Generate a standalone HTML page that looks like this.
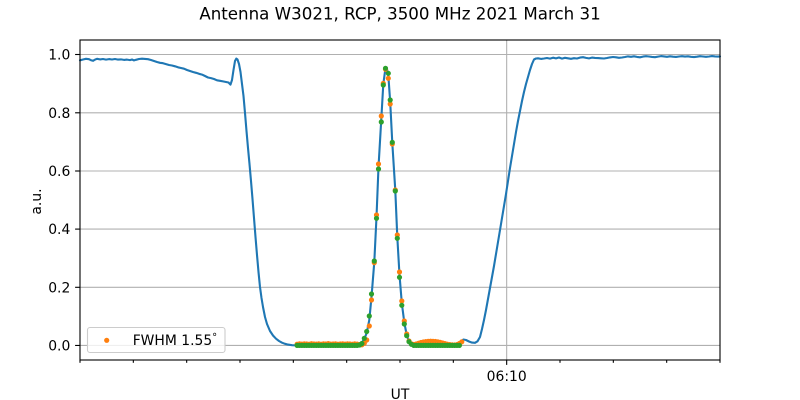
<!DOCTYPE html>
<html><head><meta charset="utf-8"><style>
html,body{margin:0;padding:0;background:#fff;}
svg{display:block;}
text{font-family:"DejaVu Sans","Liberation Sans",sans-serif;fill:#000;}
</style></head><body>
<svg width="800" height="400" viewBox="0 0 800 400" xmlns="http://www.w3.org/2000/svg">
<rect x="0" y="0" width="800" height="400" fill="#fff"/>
<text x="400" y="19.3" font-size="16.67" text-anchor="middle">Antenna W3021, RCP, 3500 MHz 2021 March 31</text>
<!-- grid -->
<g stroke="#b0b0b0" stroke-width="1.1">
<line x1="80" y1="345.45" x2="720" y2="345.45"/>
<line x1="80" y1="287.3" x2="720" y2="287.3"/>
<line x1="80" y1="229.1" x2="720" y2="229.1"/>
<line x1="80" y1="171.0" x2="720" y2="171.0"/>
<line x1="80" y1="112.8" x2="720" y2="112.8"/>
<line x1="80" y1="54.5" x2="720" y2="54.5"/>
<line x1="506.67" y1="40" x2="506.67" y2="360"/>
</g>
<!-- blue line -->
<polyline fill="none" stroke="#1f77b4" stroke-width="2.1" stroke-linejoin="round" stroke-linecap="round" points="
80,60.3 83,59.5 86,58.8 89,59.2 91,60.2 93,60.8 95,59.6 97,58.8 100,59.4 103,59.0 106,59.6 109,59.1 112,59.5 115,59.0 118,59.6 121,59.4 124,59.9 127,59.6 130,60.1 132,59.5 134,60.4 136,59.8 139,59.0 142,58.7 145,58.9 148,59.2 151,60.0 154,61.0 157,62.0 160,62.8 163,63.2 166,64.1 169,65.0 172,65.5 175,66.3 178,67.3 181,68.0 184,68.7 187,70.0 190,71.0 193,72.0 196,72.8 199,73.8 202,74.6 205,76.0 208,77.5 211,78.1 214,79.0 217,80.3 220,80.8 223,81.4 226,82.0 228.5,82.5 230.5,84.6 232,80 233.5,70 235,61 236.3,58.6 237.5,59.5 239,64 240.5,72 242,84 243.5,96 245,113 246.5,131 248,148 249.5,164 251,181 252.5,199 254,218 255.5,237 257,255 258.5,272 260,287 261.5,298 263,307 265,317 267,324 270,331 273,335.5 276,338.7 279,341 282,342.7 285,343.8 288,344.6 292,345.2 297,345.5 330,345.5 358,345.2 360,344.5 362,342.5 364.3,339 366.7,333 369.3,320 371.5,297 374.3,262 376.5,217 378.5,167 381.3,119 383.3,84 385.5,68 386.6,67.6 388.3,75 390.2,102 392.3,143 395.3,190.5 397.3,237 399.5,275 401.8,303 404.3,322.5 406.7,335 409,341.5 411.5,344.2 414,345.2 420,345.3 455,345.3 458,344.5 461,341.5 463.5,339.5 466,340 469,341.5 472,342.6 475,342.8 477.5,341.3 480,337 482,329 484,320 486,310 488,299 490,288 492,277 494,266 496,254 498,242 500,230 502,218 504,206 506,194 508,181 510,168 512,156 514,144 516,132 518,121 520,111 522,101 524,92 526,84 528,77 530,70 532,64 534,59.5 536,58.5 538,58.3 541,58.9 544,58.5 547,58.0 550,58.6 553,57.7 556,58.4 559,57.5 562,58.6 565,57.8 568,58.3 571,58.8 574,58.2 577,58.5 580,57.6 583,57.2 586,57.9 589,58.4 592,57.6 595,57.9 598,58.1 601,58.3 604,58.5 607,58.0 610,57.4 613,57.0 616,57.3 619,57.8 622,57.5 625,57.0 628,56.4 631,56.8 634,56.3 637,56.9 640,57.3 643,56.6 646,56.2 649,56.5 652,56.9 655,57.2 658,56.6 661,56.1 664,56.4 667,56.8 670,56.3 673,56.7 676,56.9 679,56.5 682,56.2 685,56.6 688,56.3 691,56.8 694,57.1 697,56.7 700,56.2 703,56.5 706,56.8 709,56.5 712,56.1 715,56.4 718,56.6 720,56.4"/>
<!-- orange dots -->
<path fill="none" stroke="#ff7f0e" stroke-width="5.2" stroke-linecap="round" d="
M297.1 344.2h0M299.5 343.9h0M301.9 344.1h0M304.3 343.8h0M306.7 344.0h0M309.1 344.2h0M311.5 343.7h0M313.9 344.0h0M316.3 344.1h0M318.7 343.8h0M321.1 344.2h0M323.5 343.9h0M325.9 344.0h0M328.3 343.6h0M330.7 344.1h0M333.1 344.0h0M335.5 343.8h0M337.9 344.2h0M340.3 344.0h0M342.7 343.9h0M345.1 344.1h0M347.5 343.8h0M349.9 344.0h0M352.3 344.2h0M354.7 343.9h0M357.1 344.1h0M359.5 344.6h0M361.9 344.8h0M364.3 343.3h0
M366.7 340h0M369.3 326h0M371.5 300h0M374.3 262.7h0M376.5 215h0M378.5 164h0M381.3 116h0M383.3 83.3h0M385.5 69.3h0M388.3 78.3h0M390.2 104h0M392.3 144h0M395.3 190h0M397.3 235h0M399.5 272h0M401.8 301h0M404.3 321h0M406.7 334h0M409 341h0
M411.4 343.8h0M413.8 344.5h0M416.2 344h0M418.6 343.2h0M421 342.5h0M423.4 342h0M425.8 341.6h0M428.2 341.3h0M430.6 341.2h0M433 341.3h0M435.4 341.5h0M437.8 341.9h0M440.2 342.4h0M442.6 343h0M445 343.6h0M447.4 344.2h0M449.8 344.6h0M452.2 344.8h0M454.6 345h0M457 344.6h0M459.4 343.5h0M461.8 341.8h0"/>
<!-- green dots -->
<path fill="none" stroke="#2ca02c" stroke-width="5.2" stroke-linecap="round" d="
M297.1 345.4h0M299.5 345.4h0M301.9 345.4h0M304.3 345.4h0M306.7 345.4h0M309.1 345.4h0M311.5 345.4h0M313.9 345.4h0M316.3 345.4h0M318.7 345.4h0M321.1 345.4h0M323.5 345.4h0M325.9 345.4h0M328.3 345.4h0M330.7 345.4h0M333.1 345.4h0M335.5 345.4h0M337.9 345.4h0M340.3 345.4h0M342.7 345.4h0M345.1 345.4h0M347.5 345.4h0M349.9 345.4h0M352.3 345.4h0M354.7 345.4h0M357.1 345.4h0M359.5 345h0M361.9 343.5h0
M364.3 338.3h0M366.7 331.5h0M369.3 316h0M371.5 294h0M374.3 261h0M376.5 218.3h0M378.5 169h0M381.3 122h0M383.3 85h0M385.5 68.3h0M388.3 73.3h0M390.2 100h0M392.3 142.3h0M395.3 191h0M397.3 238.3h0M399.5 277.3h0M401.8 305.3h0M404.3 324h0M406.7 335.7h0M409 341.7h0
M411.4 344.3h0M413.8 345.4h0M416.2 345.4h0M418.6 345.4h0M421 345.4h0M423.4 345.4h0M425.8 345.4h0M428.2 345.4h0M430.6 345.4h0M433 345.4h0M435.4 345.4h0M437.8 345.4h0M440.2 345.4h0M442.6 345.4h0M445 345.4h0M447.4 345.4h0M449.8 345.4h0M452.2 345.4h0M454.6 345.4h0M457 345.4h0M459.4 345.4h0"/>
<!-- axes frame -->
<rect x="80" y="40" width="640" height="320" fill="none" stroke="#000" stroke-width="1.1"/>
<!-- y ticks -->
<g stroke="#000" stroke-width="1.1">
<line x1="75.1" y1="345.45" x2="80" y2="345.45"/>
<line x1="75.1" y1="287.3" x2="80" y2="287.3"/>
<line x1="75.1" y1="229.1" x2="80" y2="229.1"/>
<line x1="75.1" y1="171.0" x2="80" y2="171.0"/>
<line x1="75.1" y1="112.8" x2="80" y2="112.8"/>
<line x1="75.1" y1="54.5" x2="80" y2="54.5"/>
<!-- x ticks -->
<line x1="80" y1="360" x2="80" y2="362.8"/>
<line x1="133.33" y1="360" x2="133.33" y2="362.8"/>
<line x1="186.67" y1="360" x2="186.67" y2="362.8"/>
<line x1="240" y1="360" x2="240" y2="362.8"/>
<line x1="293.33" y1="360" x2="293.33" y2="362.8"/>
<line x1="346.67" y1="360" x2="346.67" y2="362.8"/>
<line x1="400" y1="360" x2="400" y2="362.8"/>
<line x1="453.33" y1="360" x2="453.33" y2="362.8"/>
<line x1="506.67" y1="360" x2="506.67" y2="364.9"/>
<line x1="560" y1="360" x2="560" y2="362.8"/>
<line x1="613.33" y1="360" x2="613.33" y2="362.8"/>
<line x1="666.67" y1="360" x2="666.67" y2="362.8"/>
<line x1="720" y1="360" x2="720" y2="362.8"/>
</g>
<g font-size="13.9" text-anchor="end">
<text x="70.3" y="350.5">0.0</text>
<text x="70.3" y="292.3">0.2</text>
<text x="70.3" y="234.1">0.4</text>
<text x="70.3" y="176.0">0.6</text>
<text x="70.3" y="117.8">0.8</text>
<text x="70.3" y="59.5">1.0</text>
</g>
<text x="506.67" y="381" font-size="13.9" text-anchor="middle">06:10</text>
<text x="400" y="399" font-size="13.9" text-anchor="middle">UT</text>
<text transform="translate(40.8,201.5) rotate(-90)" font-size="13.9" text-anchor="middle">a.u.</text>
<!-- legend -->
<rect x="87.5" y="327.5" width="137.5" height="25" rx="2.5" ry="2.5" fill="#fff" fill-opacity="0.8" stroke="#cccccc" stroke-width="1.1"/>
<path fill="none" stroke="#ff7f0e" stroke-width="5.2" stroke-linecap="round" d="M106.7 340.3h0"/>
<text x="132.7" y="345" font-size="13.9">FWHM 1.55</text>
<text x="211.5" y="337.5" font-size="10">∘</text>
</svg>
</body></html>
